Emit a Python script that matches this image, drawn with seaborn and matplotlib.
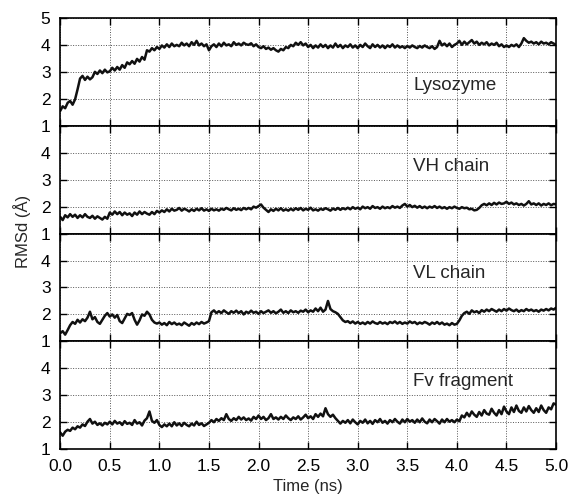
import numpy as np
import pandas as pd
import matplotlib
matplotlib.use("Agg")
import matplotlib.pyplot as plt
import seaborn as sns

# Time axis (ns), 0.025 ns sampling
time_ns = [round(i * 0.025, 3) for i in range(201)]

panel_names = ["Lysozyme", "VH chain", "VL chain", "Fv fragment"]

lysozyme = [
    1.55, 1.72, 1.65, 1.85, 1.92, 1.78, 1.98, 2.35, 2.75, 2.85, 2.70, 2.82,
    2.72, 2.80, 3.00, 2.92, 3.05, 2.95, 3.08, 2.98, 3.02, 3.15, 3.05, 3.18,
    3.08, 3.25, 3.15, 3.35, 3.28, 3.40, 3.30, 3.48, 3.38, 3.55, 3.45, 3.80,
    3.75, 3.88, 3.80, 3.92, 3.85, 3.98, 3.90, 4.02, 3.92, 4.05, 3.95, 4.00,
    3.95, 4.08, 3.98, 4.05, 3.95, 4.10, 4.00, 4.15, 3.98, 4.05, 3.95, 4.02,
    3.80, 3.95, 4.02, 3.92, 4.05, 3.95, 4.08, 3.98, 4.02, 3.95, 4.10, 4.00,
    4.05, 3.98, 4.08, 4.02, 4.00, 4.06, 3.95, 4.02, 3.92, 3.88, 3.95, 3.85,
    3.90, 3.82, 3.88, 3.80, 3.75, 3.85, 3.80, 3.92, 3.88, 4.00, 3.95, 4.08,
    4.00, 4.10, 3.98, 4.05, 3.92, 4.00, 3.88, 3.98, 3.90, 4.02, 3.92, 4.00,
    3.88, 3.98, 3.90, 4.05, 3.92, 4.00, 3.88, 3.98, 3.92, 4.02, 3.90, 3.98,
    3.88, 4.00, 3.92, 4.05, 3.95, 3.88, 4.02, 3.92, 4.00, 3.90, 3.98, 3.88,
    3.98, 3.92, 4.02, 3.90, 3.98, 3.90, 3.95, 3.88, 3.96, 3.90, 3.98, 3.92,
    3.88, 3.96, 3.90, 3.98, 3.92, 3.88, 3.95, 3.85, 3.92, 4.15, 3.98, 4.05,
    3.95, 4.05, 3.92, 4.00, 4.05, 4.15, 4.00, 4.12, 4.02, 4.10, 4.18, 4.05,
    4.12, 4.00, 4.08, 4.02, 4.10, 3.98, 4.05, 4.00, 4.08, 3.95, 4.02, 3.92,
    3.98, 3.92, 4.00, 3.95, 4.02, 3.92, 4.05, 4.25, 4.15, 4.08, 4.12, 4.05,
    4.10, 4.02, 4.12, 4.05, 4.08, 4.02, 4.10, 4.05, 4.00,
]

vh_chain = [
    1.62, 1.50, 1.68, 1.60, 1.72, 1.62, 1.70, 1.58, 1.68, 1.60, 1.72, 1.62,
    1.58, 1.66, 1.55, 1.64, 1.58, 1.52, 1.62, 1.55, 1.78, 1.70, 1.82, 1.72,
    1.80, 1.68, 1.78, 1.70, 1.75, 1.65, 1.78, 1.70, 1.82, 1.72, 1.80, 1.74,
    1.70, 1.80, 1.72, 1.84, 1.78, 1.86, 1.80, 1.90, 1.82, 1.92, 1.85, 1.88,
    1.95, 1.85, 1.92, 1.88, 1.82, 1.90, 1.84, 1.92, 1.86, 1.94, 1.85, 1.90,
    1.84, 1.92, 1.86, 1.90, 1.85, 1.92, 1.88, 1.95, 1.90, 1.86, 1.94, 1.88,
    1.92, 1.87, 1.95, 1.90, 1.95, 1.90, 2.00, 1.96, 2.02, 2.08, 1.96, 1.88,
    1.80, 1.90, 1.84, 1.92, 1.86, 1.94, 1.85, 1.90, 1.85, 1.92, 1.86, 1.94,
    1.88, 1.95, 1.86, 1.92, 1.88, 1.96, 1.86, 1.90, 1.85, 1.92, 1.88, 1.94,
    1.90, 1.85, 1.93, 1.88, 1.95, 1.88, 1.94, 1.90, 1.96, 1.90, 1.98, 1.92,
    1.96, 1.90, 2.00, 1.94, 1.98, 1.92, 2.02, 1.95, 1.98, 1.92, 2.00, 1.94,
    1.98, 1.94, 2.02, 1.96, 2.00, 1.95, 2.04, 2.10, 2.00, 2.06, 1.98, 2.03,
    1.96, 2.02, 1.95, 2.00, 1.94, 2.00, 1.96, 2.02, 1.95, 2.00, 1.94, 1.98,
    1.92, 1.98, 1.94, 2.00, 1.95, 1.92, 1.98, 1.94, 1.96, 1.90, 1.92, 1.86,
    1.88, 1.95, 2.05, 2.10, 2.05, 2.12, 2.06, 2.14, 2.08, 2.15, 2.10, 2.12,
    2.18, 2.10, 2.15, 2.08, 2.12, 2.06, 2.10, 2.04, 2.10, 2.20, 2.08, 2.12,
    2.06, 2.12, 2.04, 2.10, 2.06, 2.12, 2.05, 2.10, 2.08,
]

vl_chain = [
    1.30, 1.38, 1.25, 1.42, 1.60, 1.72, 1.65, 1.80, 1.70, 1.82, 1.75, 1.88,
    2.10, 1.82, 1.90, 1.72, 1.65, 1.80, 1.95, 2.05, 1.92, 2.00, 1.88, 1.98,
    1.75, 1.68, 1.85, 2.02, 1.98, 2.05, 1.80, 1.62, 1.78, 2.00, 1.95, 2.10,
    2.00, 1.80, 1.70, 1.66, 1.70, 1.62, 1.68, 1.60, 1.72, 1.64, 1.70, 1.62,
    1.66, 1.60, 1.70, 1.64, 1.58, 1.68, 1.62, 1.70, 1.64, 1.72, 1.66, 1.70,
    1.75, 2.08, 2.15, 2.05, 2.12, 2.05, 2.15, 2.08, 2.02, 2.12, 2.06, 2.14,
    2.05, 2.12, 2.00, 2.10, 2.05, 2.14, 2.06, 2.10, 2.02, 2.12, 2.05, 2.10,
    2.15, 2.06, 2.12, 2.04, 2.10, 2.18, 2.06, 2.12, 2.05, 2.15, 2.08, 2.12,
    2.06, 2.14, 2.10, 2.18, 2.08, 2.15, 2.10, 2.22, 2.12, 2.25, 2.10, 2.18,
    2.50, 2.20, 2.12, 2.08, 2.02, 1.90, 1.78, 1.72, 1.75, 1.68, 1.74, 1.66,
    1.72, 1.65, 1.70, 1.64, 1.72, 1.66, 1.74, 1.68, 1.65, 1.72, 1.66, 1.70,
    1.64, 1.72, 1.68, 1.74, 1.66, 1.72, 1.65, 1.70, 1.66, 1.74, 1.68, 1.72,
    1.64, 1.70, 1.66, 1.72, 1.68, 1.62, 1.70, 1.65, 1.72, 1.64, 1.70, 1.62,
    1.66, 1.60, 1.68, 1.62, 1.65, 1.78, 1.95, 2.05, 2.10, 2.02, 2.15, 2.08,
    2.12, 2.05, 2.16, 2.10, 2.18, 2.12, 2.20, 2.15, 2.10, 2.18, 2.12, 2.20,
    2.14, 2.22, 2.16, 2.12, 2.18, 2.10, 2.16, 2.12, 2.20, 2.14, 2.18, 2.12,
    2.16, 2.10, 2.18, 2.14, 2.20, 2.15, 2.22, 2.18, 2.25,
]

fv_fragment = [
    1.62, 1.50, 1.65, 1.72, 1.68, 1.80, 1.74, 1.85, 1.80, 1.92, 1.86, 2.02,
    2.12, 1.95, 2.02, 1.90, 1.96, 1.88, 1.98, 1.92, 2.02, 1.92, 2.05, 1.95,
    2.00, 1.90, 2.04, 1.94, 1.98, 1.90, 2.08, 1.95, 2.00, 1.88, 2.06, 2.15,
    2.40, 2.05, 1.98, 2.08, 1.90, 1.82, 1.92, 1.85, 1.95, 1.85, 2.00, 1.88,
    1.96, 1.86, 1.98, 1.90, 1.85, 1.95, 1.88, 2.02, 1.90, 1.96, 1.86, 1.92,
    1.98, 2.08, 2.00, 2.12, 2.05, 2.15, 2.08, 2.30, 2.12, 2.05, 2.15, 2.08,
    2.20, 2.10, 2.18, 2.08, 2.14, 2.06, 2.20, 2.12, 2.25, 2.12, 2.20, 2.08,
    2.15, 2.30, 2.12, 2.18, 2.10, 2.20, 2.12, 2.25, 2.15, 2.08, 2.18, 2.12,
    2.22, 2.10, 2.18, 2.28, 2.15, 2.22, 2.12, 2.30, 2.20, 2.32, 2.22, 2.52,
    2.30, 2.20, 2.28, 2.15, 2.05, 1.95, 2.05, 1.98, 2.08, 1.96, 2.10, 2.00,
    1.92, 2.05, 1.98, 2.10, 1.96, 2.05, 1.94, 2.08, 2.00, 2.12, 1.98, 2.05,
    1.95, 2.08, 2.00, 2.12, 2.02, 1.95, 2.10, 2.00, 2.12, 2.02, 2.08, 1.98,
    2.10, 2.00, 2.14, 2.02, 1.96, 2.10, 2.00, 2.12, 2.04, 1.95, 2.10, 2.00,
    2.12, 2.02, 2.08, 2.00, 2.10, 2.04, 2.25, 2.18, 2.35, 2.22, 2.40, 2.28,
    2.20, 2.38, 2.25, 2.45, 2.32, 2.28, 2.50, 2.35, 2.25, 2.45, 2.30, 2.58,
    2.40, 2.30, 2.55, 2.38, 2.62, 2.42, 2.35, 2.55, 2.40, 2.60, 2.45, 2.35,
    2.52, 2.38, 2.62, 2.45, 2.35, 2.55, 2.48, 2.70, 2.65,
]

series = [lysozyme, vh_chain, vl_chain, fv_fragment]
for s in series:
    assert len(s) == len(time_ns), len(s)

x_ticks = [0.0, 0.5, 1.0, 1.5, 2.0, 2.5, 3.0, 3.5, 4.0, 4.5, 5.0]
y_ticks = [1, 2, 3, 4, 5]

sns.set_style("ticks")
plt.rcParams["font.family"] = ["Liberation Sans", "DejaVu Sans"]
plt.rcParams["font.size"] = 12

fig, axes = plt.subplots(4, 1, figsize=(5.68, 4.98), dpi=100, sharex=True)
fig.subplots_adjust(left=0.106, right=0.979, top=0.964, bottom=0.098, hspace=0)

for i, (ax, name, vals) in enumerate(zip(axes, panel_names, series)):
    df = pd.DataFrame({"t": time_ns, "rmsd": vals})
    sns.lineplot(data=df, x="t", y="rmsd", ax=ax, color="#111111",
                 linewidth=1.8, estimator=None)
    ax.set_xlim(0, 5)
    ax.set_ylim(1, 5)
    ax.set_xticks(x_ticks)
    ax.set_yticks(y_ticks)
    if i == 0:
        ax.set_yticklabels([str(v) for v in y_ticks])
    else:
        ax.set_yticklabels([str(v) for v in y_ticks[:-1]] + [""])
    ax.set_xlabel("")
    ax.set_ylabel("")
    ax.grid(True, which="major", color="#555555", linestyle=(0, (1, 1.6)), linewidth=0.7)
    ax.tick_params(direction="in", length=5, width=1, top=True, right=True,
                   labelsize=12.5, colors="black")
    ax.tick_params(axis="y", pad=7)
    ax.tick_params(axis="x", pad=7)
    for sp in ax.spines.values():
        sp.set_visible(True)
        sp.set_linewidth(1.2)
        sp.set_color("black")
    label_y = 2.5 if i == 0 else 3.5
    ax.text(3.56, label_y, name, ha="left", va="center", fontsize=13.5)

axes[-1].set_xticklabels([f"{v:.1f}" for v in x_ticks])
axes[-1].set_xlabel("Time (ns)", fontsize=12, labelpad=4)
fig.text(0.038, 0.535, "RMSd (Å)", rotation=90, ha="center", va="center", fontsize=12)

fig.savefig("out.png", dpi=100)
